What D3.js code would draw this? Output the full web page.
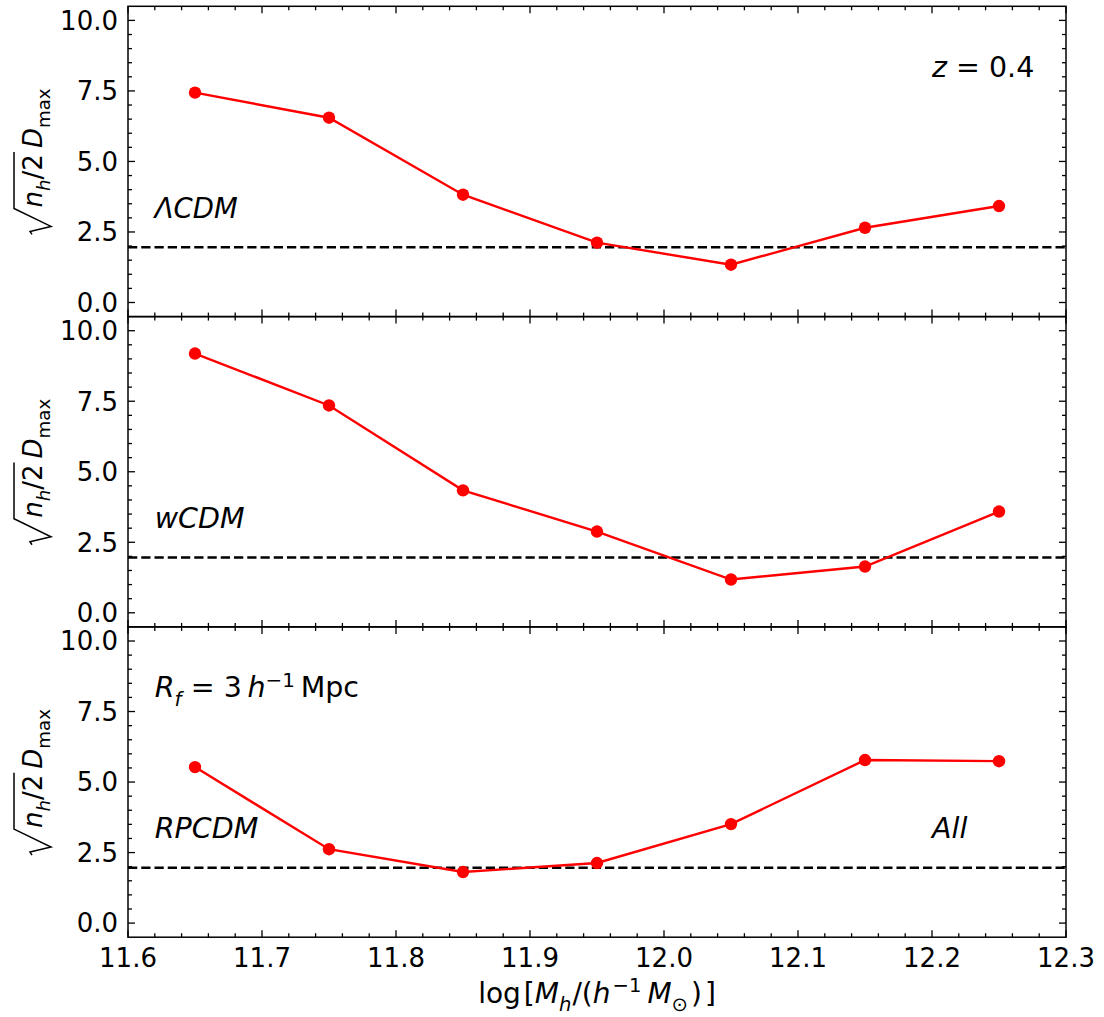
<!DOCTYPE html>
<html>
<head>
<meta charset="utf-8">
<script src="https://cdn.jsdelivr.net/npm/d3@7"></script>
<style>
  html, body { margin: 0; padding: 0; background: #fff; }
  svg { display: block; }
  text { font-family: "DejaVu Sans", sans-serif; fill: #000; }
</style>
</head>
<body>
<script>
// ---- data ----
const massBins = [11.65, 11.75, 11.85, 11.95, 12.05, 12.15, 12.25];
const lcdmValues = [7.44, 6.55, 3.82, 2.12, 1.34, 2.65, 3.42];
const wcdmValues = [9.19, 7.35, 4.34, 2.88, 1.18, 1.64, 3.59];
const rpcdmValues = [5.53, 2.62, 1.81, 2.13, 3.51, 5.78, 5.74];
const thresholdValue = 1.96;
const modelNames = ["ΛCDM", "wCDM", "RPCDM"];
const xTickValues = [11.6, 11.7, 11.8, 11.9, 12.0, 12.1, 12.2, 12.3];
const yTickValues = [0, 2.5, 5, 7.5, 10];
const xDomain = [11.6, 12.3];
const yDomain = [-0.5, 10.5];

const series = [lcdmValues, wcdmValues, rpcdmValues];

// ---- layout ----
const W = 1104, H = 1017;
const left = 128, right = 1066;
const top0 = 6.3, panelH = 310.3;
const FS = 26;     // tick labels, axis labels
const AFS = 28.5;  // annotations

const svg = d3.select("body").append("svg").attr("width", W).attr("height", H);

const x = d3.scaleLinear().domain(xDomain).range([left, right]);

function rich(textSel, parts, fs) {
  let off = 0;
  parts.forEach(p => {
    const ts = textSel.append("tspan").text(p.t);
    let size = fs, target = 0;
    if (p.s === "sub") { size = fs * 0.7; target = fs * 0.3; }
    if (p.s === "sup") { size = fs * 0.7; target = -fs * 0.38; }
    ts.attr("font-size", size).attr("font-style", p.i ? "italic" : "normal");
    const dy = target - off;
    if (dy !== 0) ts.attr("dy", dy);
    if (p.dx) ts.attr("dx", p.dx);
    off = target;
  });
  return textSel;
}

function minorTicks(domain, step) {
  const out = [];
  const n = Math.round((domain[1] - domain[0]) / step);
  for (let i = 0; i <= n; i++) out.push(+(domain[0] + i * step).toFixed(4));
  return out;
}

const xMinor = minorTicks([11.6, 12.3], 0.02).filter(v => !xTickValues.some(t => Math.abs(t - v) < 1e-6));
const yMinor = minorTicks([-0.5, 10.5], 0.5)
  .filter(v => !yTickValues.some(t => Math.abs(t - v) < 1e-6) && v > yDomain[0] && v < yDomain[1]);

series.forEach((vals, pi) => {
  const top = top0 + pi * panelH;
  const bottom = top + panelH;
  const y = d3.scaleLinear().domain(yDomain).range([bottom, top]);
  const g = svg.append("g");

  // threshold dashed line
  g.append("line")
    .attr("x1", left).attr("x2", right)
    .attr("y1", y(thresholdValue)).attr("y2", y(thresholdValue))
    .attr("stroke", "#000").attr("stroke-width", 2.5)
    .attr("stroke-dasharray", "9.25,4");

  // data line
  const line = d3.line().x((d, i) => x(massBins[i])).y(d => y(d));
  g.append("path").datum(vals).attr("d", line)
    .attr("fill", "none").attr("stroke", "#ff0000").attr("stroke-width", 2.4);
  g.selectAll("circle.pt").data(vals).enter().append("circle")
    .attr("cx", (d, i) => x(massBins[i])).attr("cy", d => y(d)).attr("r", 6.2)
    .attr("fill", "#ff0000");

  // ticks (inward on all sides)
  const tk = g.append("g").attr("stroke", "#000").attr("stroke-width", 1.3);
  xTickValues.forEach(v => {
    tk.append("line").attr("x1", x(v)).attr("x2", x(v)).attr("y1", bottom).attr("y2", bottom - 7);
    tk.append("line").attr("x1", x(v)).attr("x2", x(v)).attr("y1", top).attr("y2", top + 7);
  });
  xMinor.forEach(v => {
    tk.append("line").attr("x1", x(v)).attr("x2", x(v)).attr("y1", bottom).attr("y2", bottom - 4);
    tk.append("line").attr("x1", x(v)).attr("x2", x(v)).attr("y1", top).attr("y2", top + 4);
  });
  yTickValues.forEach(v => {
    tk.append("line").attr("x1", left).attr("x2", left + 7).attr("y1", y(v)).attr("y2", y(v));
    tk.append("line").attr("x1", right).attr("x2", right - 7).attr("y1", y(v)).attr("y2", y(v));
  });
  yMinor.forEach(v => {
    tk.append("line").attr("x1", left).attr("x2", left + 4).attr("y1", y(v)).attr("y2", y(v));
    tk.append("line").attr("x1", right).attr("x2", right - 4).attr("y1", y(v)).attr("y2", y(v));
  });

  // frame
  g.append("rect").attr("x", left).attr("y", top).attr("width", right - left).attr("height", panelH)
    .attr("fill", "none").attr("stroke", "#000").attr("stroke-width", 1.5);

  // y tick labels
  g.selectAll("text.yt").data(yTickValues).enter().append("text")
    .attr("x", left - 10).attr("y", d => y(d)).attr("dy", "0.36em")
    .attr("text-anchor", "end").attr("font-size", FS)
    .text(d => d.toFixed(1));

  // model label
  g.append("text").attr("x", x(11.62)).attr("y", y(3))
    .attr("font-size", pi === 0 ? 27.5 : AFS).attr("font-style", "italic").text(modelNames[pi]);

  // y axis label: sqrt(n_h/2) D_max
  const cy = (top + bottom) / 2;
  const lg = g.append("g").attr("transform", `translate(42,${cy}) rotate(-90)`);
  const lt = lg.append("text").attr("x", 0).attr("y", 0).attr("font-size", FS);
  rich(lt, [
    {t: "n", i: true}, {t: "h", i: true, s: "sub"}, {t: "/2", i: false},
    {t: "D", i: true, dx: 6}, {t: "max", i: false, s: "sub"}
  ], FS);
  const tw = lt.node().getComputedTextLength() + 6;
  const radW = 27;
  const total = radW + tw;
  const u0 = -total / 2;
  lt.attr("x", u0 + radW);
  const endTwo = lt.node().getEndPositionOfChar(3).x;
  lg.append("path")
    .attr("d", `M${u0},-10 L${u0 + 3},-12 L${u0 + 8},9 L${u0 + radW - 1},-28 L${endTwo + 2},-28`)
    .attr("fill", "none").attr("stroke", "#000").attr("stroke-width", 1.5)
    .attr("stroke-linejoin", "miter");

  if (pi === 0) {
    const zt = svg.append("text").attr("x", x(12.2)).attr("y", y(8)).attr("font-size", AFS);
    rich(zt, [{t: "z", i: true}, {t: " = 0.4", i: false}], AFS);
  }
  if (pi === 2) {
    const rt = svg.append("text").attr("x", x(11.62)).attr("y", y(8)).attr("font-size", AFS);
    rich(rt, [{t: "R", i: true}, {t: "f", i: true, s: "sub"}, {t: " = 3\u2009", i: false},
              {t: "h", i: true}, {t: "\u22121", i: false, s: "sup"}, {t: "\u2009Mpc", i: false}], AFS);
    svg.append("text").attr("x", x(12.2)).attr("y", y(3)).attr("font-size", AFS)
      .attr("font-style", "italic").text("All");

    // x tick labels
    g.selectAll("text.xt").data(xTickValues).enter().append("text")
      .attr("x", d => x(d)).attr("y", bottom + 30)
      .attr("text-anchor", "middle").attr("font-size", FS)
      .text(d => d.toFixed(1));

    // x axis label
    const XFS = 28;
    const xl = svg.append("text").attr("x", (left + right) / 2).attr("y", 1003)
      .attr("text-anchor", "middle").attr("font-size", XFS);
    rich(xl, [
      {t: "log", i: false}, {t: "[", i: false, dx: 3}, {t: "M", i: true}, {t: "h", i: true, s: "sub"},
      {t: "/(", i: false, dx: 1}, {t: "h", i: true}, {t: "\u22121", i: false, s: "sup", dx: 2},
      {t: "M", i: true, dx: 6}, {t: "\u2299", i: false, s: "sub"},
      {t: ")", i: false, dx: 3}, {t: "]", i: false, dx: 3}
    ], XFS);
  }
});
</script>
</body>
</html>
